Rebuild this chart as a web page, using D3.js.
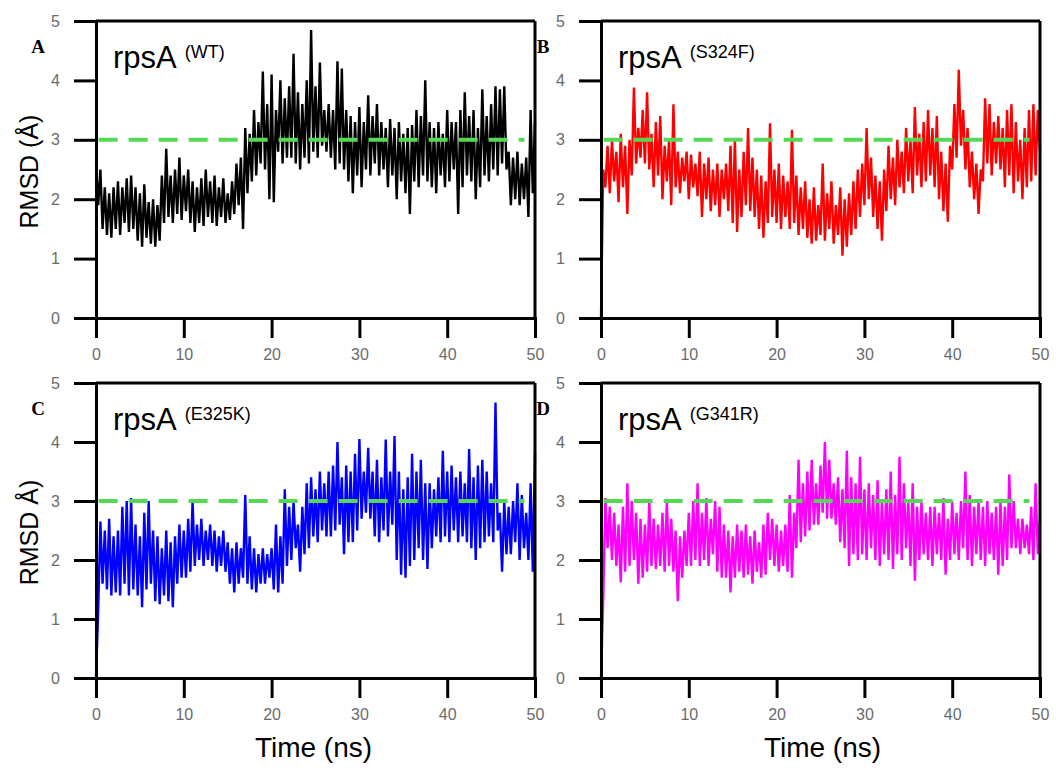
<!DOCTYPE html>
<html>
<head>
<meta charset="utf-8">
<script src="https://cdnjs.cloudflare.com/ajax/libs/d3/7.8.5/d3.min.js"></script>
<style>
    body { margin: 0; background: #ffffff; }
    svg { display: block; font-family: "Liberation Sans", Arial, sans-serif; }
</style>
</head>
<body>
<svg id="chart" width="1056" height="770"></svg>
<script>
// ticks and reference line
const timeTicks = [0, 10, 20, 30, 40, 50];
const rmsdTicks = [0, 1, 2, 3, 4, 5];
const threshold = 3;
const thresholdSpan = [0.3, 48.8];
const timeStep = 0.25; // ns between samples below

// RMSD (Å), one sample every 0.25 ns (4 per row = 1 ns)
const rmsdWT = [
    2.6, 1.9, 2.5, 1.5,   2.2, 1.4, 2.1, 1.35,  2.2, 1.5, 2.3, 1.4,   2.2, 1.6, 2.35, 1.45,
    2.4, 1.5, 2.2, 1.3,   2.1, 1.2, 2.25, 1.35, 1.95, 1.25, 2.0, 1.2, 1.9, 1.3, 2.4, 1.6,
    2.85, 1.7, 2.4, 1.6,  2.5, 1.75, 2.7, 1.65, 2.4, 1.8, 2.5, 1.6,   2.3, 1.45, 2.2, 1.6,
    2.35, 1.55, 2.5, 1.7, 2.3, 1.6, 2.4, 1.55,  2.2, 1.7, 2.35, 1.6,  2.1, 1.65, 2.3, 1.75,
    2.6, 1.9, 2.7, 1.5,   3.2, 2.1, 3.1, 2.3,   3.5, 2.4, 3.3, 2.6,   4.15, 2.5, 3.6, 2.0,
    4.1, 1.95, 3.5, 2.8,  4.0, 2.6, 3.7, 2.7,   3.9, 2.7, 4.45, 2.6,  3.8, 2.5, 3.6, 2.7,
    4.0, 2.6, 4.85, 2.8,  3.9, 2.7, 4.3, 2.9,   3.5, 2.8, 3.6, 2.7,   3.5, 2.5, 4.32, 2.6,
    4.2, 2.5, 3.5, 2.3,   3.4, 2.1, 3.3, 2.4,   3.55, 2.2, 3.3, 2.5,  3.75, 2.4, 3.4, 2.6,
    3.6, 2.4, 3.3, 2.5,   3.2, 2.2, 3.35, 2.4,  3.2, 2.0, 3.3, 2.3,   3.1, 2.1, 3.2, 1.75,
    3.25, 2.3, 3.5, 2.2,  3.4, 2.4, 4.0, 2.3,   3.3, 2.2, 3.2, 2.1,   3.3, 2.4, 3.1, 2.2,
    3.5, 2.3, 3.3, 2.5,   3.3, 1.75, 3.5, 2.2,  3.8, 2.4, 3.4, 2.3,   3.5, 2.0, 3.2, 2.2,
    3.85, 2.4, 3.4, 2.3,  3.6, 2.5, 3.9, 2.4,   3.85, 2.6, 3.9, 2.5,  2.8, 1.9, 2.7, 2.0,
    2.8, 1.9, 2.6, 2.0,   2.7, 1.7, 3.5, 2.1,
    3.3
];

const rmsdS324F = [
    0.0, 2.5, 2.2, 2.9,   2.1, 3.0, 2.3, 2.8,   1.95, 3.1, 2.2, 2.9,  1.75, 3.0, 2.4, 3.88,
    2.6, 3.2, 2.7, 3.5,   2.6, 3.8, 2.5, 3.1,   2.2, 3.3, 2.4, 3.4,   2.0, 2.9, 2.3, 3.0,
    1.9, 3.6, 2.2, 2.8,   2.1, 2.7, 2.3, 2.8,   2.0, 2.75, 2.2, 2.6,  2.05, 2.8, 1.7, 2.6,
    2.0, 2.7, 1.8, 2.5,   1.9, 2.6, 1.7, 2.5,   2.0, 2.6, 1.8, 2.9,   1.6, 3.0, 1.45, 2.5,
    1.7, 2.8, 1.9, 3.2,   1.8, 2.7, 1.7, 2.5,   1.5, 2.4, 1.35, 2.3,  1.6, 3.28, 1.7, 2.5,
    1.6, 2.6, 1.5, 2.4,   1.7, 2.3, 1.5, 3.17,  1.6, 2.4, 1.4, 2.2,   1.5, 2.3, 1.35, 2.0,
    1.25, 2.2, 1.3, 1.9,  1.4, 2.6, 1.3, 2.1,   1.5, 2.3, 1.25, 1.9,  1.4, 2.2, 1.05, 2.0,
    1.2, 2.1, 1.4, 2.3,   1.5, 2.5, 1.7, 2.6,   1.9, 3.2, 2.0, 2.7,   1.7, 2.4, 1.5, 2.3,
    1.3, 2.5, 1.8, 2.9,   2.0, 2.7, 1.9, 3.0,   2.2, 2.8, 2.1, 3.2,   2.3, 3.0, 2.1, 3.55,
    2.4, 3.1, 2.2, 3.3,   2.3, 3.5, 2.4, 3.2,   2.2, 3.4, 2.0, 2.8,   1.8, 2.6, 1.62, 2.9,
    2.5, 3.6, 2.7, 4.18,  2.9, 3.5, 2.5, 3.2,   2.2, 2.8, 2.0, 2.6,   1.75, 2.5, 2.3, 3.7,
    2.6, 3.6, 2.4, 3.3,   2.6, 3.4, 2.5, 3.2,   2.2, 3.5, 2.4, 3.6,   2.1, 3.3, 2.3, 3.0,
    2.0, 3.2, 2.2, 3.5,   2.3, 3.6, 2.4, 3.5,
    2.8
];

const rmsdE325K = [
    0.0, 1.15, 2.65, 1.6, 2.5, 1.5, 2.7, 1.4,   2.4, 1.45, 2.5, 1.4,  2.9, 1.6, 3.0, 1.4,
    3.05, 1.5, 2.6, 1.4,  2.4, 1.2, 2.8, 1.5,   3.0, 1.6, 2.5, 1.3,   2.4, 1.25, 2.2, 1.4,
    2.5, 1.3, 2.3, 1.2,   2.4, 1.6, 2.6, 1.7,   2.5, 1.7, 2.7, 1.8,   3.0, 1.9, 2.6, 2.0,
    2.7, 1.9, 2.5, 2.0,   2.6, 1.9, 2.5, 1.8,   2.4, 1.9, 2.5, 1.8,   2.3, 1.6, 2.2, 1.45,
    2.3, 1.6, 2.2, 1.7,   3.1, 1.6, 2.4, 1.5,   2.2, 1.45, 2.1, 1.6,  2.2, 1.6, 2.1, 1.7,
    2.2, 1.5, 2.6, 1.45,  2.4, 1.6, 3.2, 1.9,   2.9, 2.0, 3.0, 2.2,   2.6, 1.8, 2.9, 2.1,
    3.3, 2.2, 3.4, 2.4,   3.2, 2.3, 3.5, 2.5,   3.3, 2.4, 3.5, 2.4,   3.6, 2.5, 4.0, 2.6,
    3.4, 2.1, 3.6, 2.3,   3.5, 2.3, 3.8, 2.5,   4.05, 2.7, 3.5, 2.8,  3.9, 2.7, 3.5, 2.4,
    3.7, 2.3, 3.4, 2.5,   4.04, 2.4, 3.5, 2.6,  4.1, 2.0, 3.5, 1.75,  3.2, 1.7, 3.4, 1.9,
    3.8, 2.0, 3.5, 2.2,   3.7, 2.0, 3.3, 1.85,  3.3, 2.2, 3.2, 2.4,   3.4, 2.3, 3.85, 2.4,
    3.5, 2.3, 3.6, 2.5,   3.4, 2.3, 3.5, 2.4,   3.3, 2.3, 3.88, 2.2,  3.4, 2.0, 3.6, 2.2,
    3.7, 2.3, 3.5, 2.4,   3.3, 2.3, 4.67, 2.5,  2.8, 1.8, 3.0, 2.1,   2.9, 2.1, 3.0, 2.3,
    3.3, 2.0, 3.1, 2.2,   2.8, 2.0, 3.3, 1.8,
    3.8
];

const rmsdG341R = [
    0.0, 1.3, 3.05, 2.2,  2.9, 2.0, 2.8, 1.9,   2.6, 1.62, 2.9, 1.8,  3.3, 1.9, 3.0, 2.0,
    2.8, 1.6, 2.7, 1.7,   2.6, 1.8, 3.0, 1.9,   2.7, 1.85, 2.6, 1.9,  2.8, 1.8, 3.0, 1.9,
    2.7, 1.8, 2.5, 1.3,   2.4, 1.7, 2.5, 1.9,   2.8, 1.9, 3.0, 2.0,   3.3, 1.9, 2.8, 2.0,
    3.05, 1.9, 2.7, 2.1,  3.0, 1.8, 2.9, 1.7,   2.6, 1.7, 2.5, 1.45,  2.4, 1.7, 2.6, 1.8,
    2.5, 1.7, 2.6, 1.75,  2.4, 1.6, 2.5, 1.8,   2.3, 1.7, 2.6, 1.75,  2.8, 2.0, 2.7, 1.9,
    2.6, 1.8, 2.5, 1.9,   2.6, 1.8, 3.1, 1.7,   2.8, 2.2, 3.7, 2.3,   3.3, 2.4, 3.5, 2.5,
    3.7, 2.6, 3.3, 2.6,   3.6, 2.8, 4.0, 2.7,   3.7, 2.7, 3.3, 2.6,   3.4, 2.3, 3.2, 2.2,
    3.85, 1.9, 3.4, 2.1,  3.3, 2.0, 3.75, 2.1,  3.2, 2.0, 3.3, 2.2,   3.1, 2.0, 3.35, 1.9,
    3.0, 2.1, 3.2, 2.0,   3.5, 1.85, 3.1, 2.1,  3.75, 2.0, 3.3, 2.2,  3.0, 1.9, 3.3, 1.65,
    2.9, 2.0, 3.0, 2.1,   2.8, 2.0, 2.9, 1.9,   2.9, 2.1, 2.8, 2.0,   3.05, 1.75, 2.7, 2.0,
    3.0, 2.1, 2.8, 2.0,   3.0, 2.2, 3.5, 2.0,   3.1, 1.9, 2.9, 2.1,   3.0, 2.0, 2.9, 1.9,
    3.0, 2.1, 2.8, 2.0,   2.9, 1.75, 3.0, 1.9,  2.9, 2.0, 3.45, 2.2,  3.0, 2.2, 2.7, 2.1,
    2.7, 2.2, 2.6, 2.1,   2.9, 2.0, 3.3, 2.1,
    2.7
];

const panelLetters = ["A", "B", "C", "D"];
const mutations = ["(WT)", "(S324F)", "(E325K)", "(G341R)"];
const seriesColors = ["#000000", "#ff0000", "#0000ff", "#ff00ff"];
const allSeries = [rmsdWT, rmsdS324F, rmsdE325K, rmsdG341R];
const yTitles = ["RMSD (Å)", "RMSD Å)"];

// plot boxes (left, top, right, bottom) in page pixels
const boxes = [
    [96, 21, 535, 318],
    [601, 21, 1040, 318],
    [96, 383, 535, 678],
    [601, 383, 1040, 678]
];

const svg = d3.select("#chart");

function drawPanel(i) {
    const [x0, y0, x1, y1] = boxes[i];
    const w = x1 - x0, h = y1 - y0;
    const g = svg.append("g").attr("transform", `translate(${x0},${y0})`);

    const x = d3.scaleLinear().domain([0, 50]).range([0, w]);
    const y = d3.scaleLinear().domain([0, 5]).range([h, 0]);

    // trace
    const line = d3.line()
        .x((d, k) => x(k * timeStep))
        .y(d => y(d));
    g.append("path")
        .datum(allSeries[i])
        .attr("fill", "none")
        .attr("stroke", seriesColors[i])
        .attr("stroke-width", 2.4)
        .attr("stroke-linejoin", "miter")
        .attr("d", line);

    // green 3 Å reference
    g.append("line")
        .attr("x1", x(thresholdSpan[0])).attr("x2", x(thresholdSpan[1]))
        .attr("y1", y(threshold)).attr("y2", y(threshold))
        .attr("stroke", "#55d955")
        .attr("stroke-width", 4)
        .attr("stroke-dasharray", "19,11");

    // axes
    const xAxis = g.append("g")
        .attr("transform", `translate(0,${h})`)
        .call(d3.axisBottom(x).tickValues(timeTicks).tickSize(20).tickPadding(11));
    const yAxis = g.append("g")
        .call(d3.axisLeft(y).tickValues(rmsdTicks).tickFormat(d3.format("d"))
            .tickSize(22).tickPadding(14));

    [xAxis, yAxis].forEach(a => {
        a.selectAll("path, line").attr("stroke", "#000").attr("stroke-width", 3);
        a.selectAll("text")
            .attr("fill", "#6b6b6b")
            .style("font-size", "16px")
            .style("font-family", "'Liberation Sans', Arial, sans-serif");
    });

    // top and right frame
    g.append("line").attr("x1", 0).attr("x2", w).attr("y1", 0).attr("y2", 0)
        .attr("stroke", "#000").attr("stroke-width", 3);
    g.append("line").attr("x1", w).attr("x2", w).attr("y1", 0).attr("y2", h)
        .attr("stroke", "#000").attr("stroke-width", 3);

    // panel letter
    svg.append("text")
        .attr("x", x0 - 58).attr("y", y0 + 32)
        .attr("text-anchor", "middle")
        .style("font-family", "'Liberation Serif', 'Times New Roman', serif")
        .style("font-weight", "bold")
        .style("font-size", "19px")
        .text(panelLetters[i]);

    // title
    const t = g.append("text")
        .attr("x", 17).attr("y", 47)
        .style("font-size", "31px")
        .attr("fill", "#000");
    t.append("tspan").text("rpsA");
    t.append("tspan")
        .attr("dx", 8).attr("dy", -10)
        .style("font-size", "18px")
        .text(mutations[i]);
}

d3.range(4).forEach(drawPanel);

// y axis titles
yTitles.forEach((label, r) => {
    const [, y0, , y1] = boxes[r * 2];
    svg.append("text")
        .attr("transform", `translate(38,${(y0 + y1) / 2 + 2}) rotate(-90)`)
        .attr("text-anchor", "middle")
        .style("font-size", "25px")
        .text(label);
});

// x axis titles
[0, 1].forEach(c => {
    const [x0, , x1] = boxes[2 + c];
    svg.append("text")
        .attr("x", (x0 + x1) / 2 - 2 + c * 4).attr("y", 757)
        .attr("text-anchor", "middle")
        .style("font-size", "28px")
        .text("Time (ns)");
});
</script>
</body>
</html>
